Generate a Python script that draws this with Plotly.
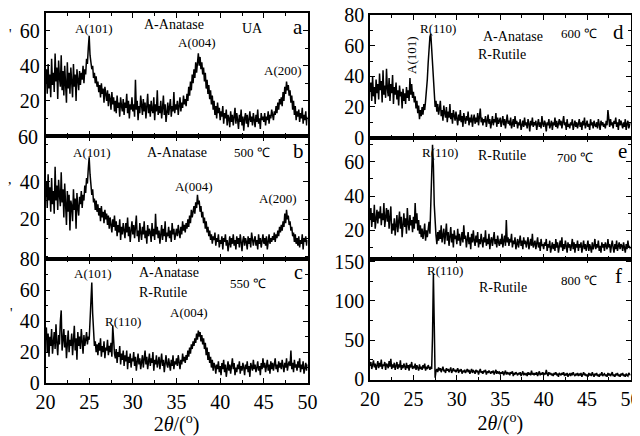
import numpy as np
import plotly.graph_objects as go

# 2-theta sampling grid (degrees)
two_theta = np.round(np.arange(20.0, 50.0001, 0.1), 1)

# ---- intensities (one row = 1 degree, step 0.1) ----
int_a_UA = [
    30, 38, 24, 41, 27, 35, 22, 44, 29, 36,
    25, 47, 31, 39, 21, 43, 33, 28, 46, 26,
    37, 23, 40, 30, 19, 42, 27, 36, 24, 39,
    31, 22, 41, 28, 35, 20, 38, 30, 26, 37,
    29, 36, 32, 40, 30, 38, 35, 44, 41, 50,
    57, 46, 43, 38, 40, 33, 36, 30, 34, 28,
    31, 25, 29, 22, 30, 24, 27, 19, 28, 23,
    20, 26, 17, 24, 21, 15, 25, 18, 22, 14,
    20, 13, 23, 16, 19, 11, 22, 17, 14, 21,
    12, 19, 16, 24, 13, 20, 10, 18, 15, 22,
    14, 18, 11, 32, 15, 20, 9, 17, 13, 23,
    16, 12, 21, 14, 19, 10, 17, 24, 13, 18,
    11, 20, 15, 13, 22, 9, 18, 14, 26, 12,
    17, 13, 20, 10, 16, 23, 12, 18, 8, 15,
    19, 12, 16, 21, 11, 17, 14, 25, 13, 18,
    15, 20, 12, 17, 22, 14, 19, 16, 23, 18,
    21, 17, 24, 20, 28, 23, 31, 26, 35, 30,
    38, 33, 42, 36, 44, 47, 40, 45, 38, 42,
    35, 39, 31, 36, 27, 32, 24, 29, 21, 26,
    18, 23, 15, 20, 12, 17, 10, 19, 13, 16,
    9, 14, 11, 17, 7, 13, 10, 15, 6, 12,
    10, 5, 14, 8, 12, 6, 11, 16, 7, 13,
    9, 4, 12, 8, 15, 6, 11, 3, 10, 13,
    7, 12, 5, 10, 14, 8, 11, 6, 13, 9,
    5, 12, 8, 15, 7, 10, 4, 13, 9, 11,
    8, 13, 6, 11, 9, 14, 7, 12, 10, 15,
    11, 9, 14, 12, 17, 13, 19, 15, 21, 18,
    22, 17, 25, 20, 28, 24, 31, 26, 29, 23,
    26, 19, 23, 15, 20, 12, 17, 9, 14, 11,
    15, 8, 13, 10, 16, 7, 12, 9, 14, 6,
    11]

int_b_500 = [
    32, 40, 26, 44, 30, 37, 24, 42, 28, 35,
    23, 48, 30, 38, 25, 41, 33, 27, 45, 29,
    36, 21, 39, 28, 17, 35, 24, 33, 14, 30,
    27, 19, 36, 25, 31, 15, 34, 26, 22, 32,
    28, 35, 26, 33, 30, 38, 34, 42, 39, 47,
    53, 44, 40, 33, 36, 29, 31, 25, 30, 24,
    28, 22, 26, 19, 27, 21, 24, 18, 25, 20,
    23, 17, 22, 15, 21, 18, 13, 20, 16, 22,
    14, 19, 11, 17, 13, 20, 9, 16, 12, 18,
    15, 10, 18, 13, 21, 11, 16, 8, 14, 19,
    12, 17, 10, 15, 22, 11, 14, 8, 18, 13,
    9, 16, 12, 19, 10, 14, 7, 17, 11, 15,
    13, 8, 18, 11, 15, 9, 23, 12, 16, 10,
    14, 7, 12, 17, 9, 15, 11, 19, 8, 13,
    11, 16, 10, 14, 8, 18, 12, 15, 9, 13,
    15, 11, 17, 13, 10, 16, 12, 19, 14, 17,
    13, 18, 15, 20, 16, 22, 18, 25, 21, 24,
    27, 23, 29, 26, 33, 28, 30, 24, 27, 21,
    24, 18, 21, 15, 19, 13, 16, 11, 14, 9,
    12, 7, 11, 9, 13, 6, 10, 8, 12, 5,
    9, 7, 11, 4, 10, 8, 12, 6, 9, 3,
    8, 11, 5, 10, 7, 12, 6, 9, 4, 11,
    7, 10, 5, 12, 8, 3, 9, 11, 6, 10,
    8, 4, 11, 7, 10, 5, 13, 8, 6, 9,
    11, 6, 9, 4, 12, 7, 10, 5, 8, 12,
    7, 10, 6, 11, 4, 9, 12, 7, 10, 8,
    11, 9, 13, 8, 12, 10, 14, 11, 16, 13,
    17, 14, 19, 16, 23, 18, 25, 20, 22, 17,
    19, 14, 16, 11, 13, 8, 12, 7, 10, 6,
    11, 5, 9, 7, 12, 4, 10, 8, 11, 6,
    9]

int_c_550 = [
    28, 36, 20, 32, 17, 30, 24, 35, 19, 27,
    33, 22, 38, 26, 18, 31, 25, 40, 47, 21,
    29, 35, 23, 31, 16, 27, 34, 20, 28, 24,
    32, 18, 26, 37, 21, 29, 15, 33, 24, 30,
    22, 35, 27, 19, 31, 24, 28, 33, 25, 30,
    28, 38, 52, 65, 45, 30, 24, 27, 20, 25,
    18, 26, 21, 29, 17, 24, 20, 27, 16, 23,
    21, 28, 18, 24, 20, 26, 17, 37, 22, 19,
    16, 22, 13, 20, 17, 24, 12, 19, 15, 21,
    11, 18, 14, 21, 9, 17, 13, 19, 10, 16,
    14, 20, 11, 17, 8, 15, 19, 12, 16, 9,
    13, 18, 10, 15, 21, 12, 17, 9, 14, 19,
    11, 16, 13, 20, 8, 15, 12, 18, 10, 14,
    17, 9, 13, 19, 11, 15, 7, 14, 18, 12,
    10, 16, 13, 8, 15, 11, 18, 9, 14, 12,
    16, 11, 18, 13, 9, 15, 12, 19, 14, 17,
    13, 18, 15, 21, 17, 23, 19, 25, 22, 27,
    24, 29, 26, 32, 28, 34, 30, 33, 27, 31,
    25, 29, 22, 26, 18, 23, 15, 20, 13, 17,
    10, 15, 8, 13, 11, 6, 12, 9, 14, 7,
    11, 5, 13, 9, 15, 7, 12, 4, 10, 14,
    8, 12, 6, 11, 16, 9, 13, 5, 10, 7,
    12, 9, 14, 6, 11, 8, 13, 10, 5, 12,
    9, 14, 7, 11, 4, 13, 10, 8, 15, 9,
    12, 7, 10, 14, 8, 11, 5, 13, 9, 16,
    10, 13, 7, 11, 15, 8, 12, 6, 14, 9,
    13, 8, 11, 16, 9, 12, 7, 14, 10, 13,
    9, 15, 11, 7, 13, 10, 16, 8, 12, 14,
    11, 21, 9, 13, 7, 15, 10, 12, 8, 14,
    10, 16, 7, 12, 9, 14, 6, 11, 13, 8,
    12]

int_d_600 = [
    30, 36, 24, 40, 27, 33, 22, 38, 29, 35,
    25, 42, 31, 37, 23, 44, 28, 34, 26, 45,
    32, 27, 39, 24, 35, 29, 41, 22, 33, 28,
    36, 25, 31, 21, 34, 27, 30, 19, 32, 24,
    29, 22, 33, 26, 31, 24, 39, 28, 35, 26,
    30, 23, 27, 19, 24, 16, 21, 12, 18, 14,
    20, 15, 22, 18, 24, 30, 38, 49, 60, 66,
    68, 58, 45, 34, 26, 20, 24, 17, 22, 15,
    19, 24, 14, 18, 11, 21, 16, 13, 20, 10,
    17, 13, 22, 12, 16, 9, 18, 14, 11, 17,
    13, 8, 15, 11, 18, 10, 14, 7, 16, 12,
    9, 14, 11, 17, 8, 13, 10, 15, 7, 12,
    15, 9, 13, 10, 16, 8, 12, 19, 10, 13,
    8, 12, 10, 14, 7, 11, 15, 9, 12, 6,
    11, 14, 8, 12, 10, 16, 7, 13, 9, 11,
    13, 7, 10, 14, 8, 12, 6, 11, 15, 9,
    11, 8, 13, 6, 10, 12, 7, 14, 9, 11,
    6, 10, 8, 12, 5, 9, 11, 7, 13, 8,
    10, 6, 12, 9, 4, 11, 8, 13, 7, 10,
    8, 11, 5, 9, 12, 7, 10, 6, 14, 9,
    7, 11, 9, 4, 10, 8, 12, 6, 9, 11,
    5, 10, 8, 13, 7, 11, 6, 9, 12, 8,
    11, 6, 9, 14, 8, 10, 5, 12, 7, 9,
    6, 10, 8, 12, 5, 9, 11, 7, 10, 6,
    9, 12, 7, 10, 5, 11, 8, 13, 6, 9,
    11, 7, 9, 5, 12, 8, 10, 6, 11, 8,
    7, 10, 6, 12, 9, 5, 11, 8, 10, 7,
    9, 6, 11, 8, 18, 10, 7, 12, 8, 10,
    6, 11, 9, 13, 7, 10, 5, 12, 8, 11,
    9, 6, 10, 7, 12, 5, 9, 11, 6, 8,
    10]

int_e_700 = [
    26, 33, 22, 30, 25, 35, 21, 29, 32, 24,
    31, 27, 34, 23, 30, 26, 36, 22, 28, 33,
    25, 32, 21, 29, 34, 18, 24, 20, 27, 17,
    23, 29, 19, 26, 31, 21, 28, 16, 25, 30,
    22, 27, 18, 33, 24, 20, 29, 23, 26, 19,
    28, 21, 36, 24, 30, 20, 26, 18, 23, 16,
    21, 15, 19, 24, 14, 20, 16, 22, 25, 18,
    30, 52, 70, 58, 35, 22, 17, 12, 19, 14,
    20, 15, 23, 13, 18, 21, 12, 17, 24, 14,
    19, 11, 16, 22, 13, 18, 10, 20, 15, 17,
    12, 21, 14, 18, 11, 16, 19, 13, 23, 15,
    17, 10, 14, 19, 12, 16, 9, 18, 13, 20,
    14, 11, 17, 13, 19, 10, 15, 12, 18, 14,
    10, 16, 13, 20, 11, 15, 12, 18, 9, 14,
    16, 11, 14, 19, 12, 15, 10, 17, 13, 11,
    15, 12, 18, 10, 14, 17, 11, 26, 13, 16,
    11, 15, 13, 18, 10, 14, 12, 16, 9, 13,
    15, 10, 13, 17, 11, 14, 9, 16, 12, 14,
    10, 13, 16, 9, 12, 15, 11, 18, 10, 13,
    14, 9, 12, 16, 10, 13, 8, 15, 11, 12,
    9, 13, 11, 15, 8, 12, 10, 14, 7, 11,
    13, 9, 12, 8, 15, 10, 13, 7, 11, 14,
    10, 16, 8, 12, 9, 14, 11, 7, 13, 10,
    12, 8, 11, 15, 9, 13, 7, 12, 10, 14,
    8, 12, 10, 13, 7, 11, 14, 9, 12, 8,
    11, 14, 8, 12, 10, 7, 13, 9, 11, 15,
    9, 12, 10, 14, 8, 11, 7, 13, 10, 12,
    8, 13, 11, 9, 15, 10, 12, 7, 11, 14,
    10, 7, 12, 9, 14, 8, 11, 13, 9, 12,
    11, 8, 13, 10, 7, 12, 9, 14, 10, 11,
    9]

int_f_800 = [
    17, 22, 13, 19, 24, 15, 20, 12, 18, 23,
    14, 21, 16, 25, 13, 19, 17, 22, 12, 20,
    18, 14, 23, 16, 26, 13, 19, 15, 21, 12,
    17, 22, 13, 19, 15, 24, 12, 18, 14, 20,
    16, 12, 21, 14, 18, 11, 19, 15, 22, 13,
    17, 14, 20, 12, 18, 15, 11, 19, 13, 16,
    12, 18, 14, 20, 11, 16, 13, 18, 15, 12,
    16, 13, 55, 135, 70, 2, 10, 13, 9, 15,
    11, 14, 9, 13, 16, 10, 12, 8, 14, 11,
    13, 9, 12, 15, 8, 11, 14, 10, 12, 9,
    11, 14, 8, 12, 10, 13, 7, 11, 9, 12,
    8, 11, 13, 9, 12, 7, 10, 13, 8, 11,
    10, 7, 12, 9, 11, 6, 10, 13, 8, 10,
    7, 11, 9, 12, 6, 10, 8, 11, 9, 7,
    10, 8, 11, 6, 9, 12, 7, 10, 8, 9,
    6, 9, 7, 10, 5, 8, 11, 6, 9, 7,
    8, 5, 9, 7, 10, 4, 8, 6, 9, 7,
    5, 8, 6, 9, 4, 7, 10, 5, 8, 6,
    7, 4, 9, 6, 8, 5, 11, 6, 8, 5,
    8, 6, 9, 4, 7, 10, 5, 8, 6, 9,
    5, 8, 6, 12, 7, 4, 9, 6, 8, 5,
    7, 4, 8, 6, 9, 5, 7, 3, 8, 6,
    5, 8, 6, 9, 4, 7, 5, 8, 3, 6,
    7, 4, 8, 5, 9, 6, 4, 7, 5, 8,
    4, 7, 5, 8, 3, 6, 9, 5, 7, 4,
    6, 3, 8, 5, 7, 4, 9, 6, 3, 7,
    5, 8, 4, 6, 3, 7, 5, 9, 4, 6,
    7, 4, 6, 3, 8, 5, 7, 4, 6, 9,
    4, 6, 3, 7, 5, 8, 4, 6, 3, 7,
    5, 8, 4, 6, 3, 7, 5, 4, 8, 6,
    5]

x_ticks = [20, 25, 30, 35, 40, 45, 50]
x_title = "2<i>θ</i>/(<sup>o</sup>)"

# the page body has an 8 px margin: the figure is drawn 8 px right and down,
# so it is made 8 px smaller and positions are measured from the window corner.
OFF = 8
W, H = 640 - OFF, 436 - OFF
def pxx(v): return (v - OFF) / W
def pyy(v): return 1 - (v - OFF) / H

FONT = "Liberation Serif"
TICK = 20

L = (45.5, 307.5)
R = (370, 630.5)
panels = [
    (int_a_UA,  L, (13, 136),    [0, 70],      [20, 40, 60],        10, False),
    (int_b_500, L, (136, 259),   [-1.1, 64.3], [20, 40],            10, False),
    (int_c_550, L, (259, 383),   [0, 80.3],    [0, 20, 40, 60, 80], 10, True),
    (int_d_600, R, (15, 137.5),  [0, 80.3],    [0, 20, 40, 60, 80], 10, False),
    (int_e_700, R, (137.5, 258.5), [3.6, 74.2], [20, 40, 60],       10, False),
    (int_f_800, R, (258.5, 380), [-1, 154],    [0, 50, 100, 150],   25, True),
]

fig = go.Figure()
layout = {}
for i, (vals, xd, yd, yr, ytv, ymin, bottom) in enumerate(panels, start=1):
    xa = "x" if i == 1 else f"x{i}"
    ya = "y" if i == 1 else f"y{i}"
    fig.add_trace(go.Scatter(x=two_theta, y=vals, mode="lines",
                             line=dict(color="black", width=1.5),
                             xaxis=xa, yaxis=ya, showlegend=False,
                             hoverinfo="skip"))
    xkey = "xaxis" if i == 1 else f"xaxis{i}"
    ykey = "yaxis" if i == 1 else f"yaxis{i}"
    xdict = dict(
        domain=[pxx(xd[0]), pxx(xd[1])], anchor=ya, range=[20, 50],
        tickvals=x_ticks, showticklabels=bottom, automargin=False,
        ticklabeloverflow="allow",
        ticks="inside", ticklen=5, tickwidth=1, tickcolor="black",
        minor=dict(ticks="inside", ticklen=3, dtick=2.5, tick0=20, tickcolor="black"),
        showline=True, linecolor="black", linewidth=1.5, mirror="ticks",
        showgrid=False, zeroline=False,
        tickfont=dict(family=FONT, size=TICK, color="black"),
    )
    if bottom:
        xdict["title"] = dict(text=x_title, standoff=0,
                              font=dict(family=FONT, size=20, color="black"))
    layout[xkey] = xdict
    layout[ykey] = dict(
        domain=[pyy(yd[1]), pyy(yd[0])], anchor=xa, range=yr, automargin=False,
        ticklabeloverflow="allow",
        tickvals=ytv, ticks="inside", ticklen=5, tickwidth=1, tickcolor="black",
        minor=dict(ticks="inside", ticklen=3, dtick=ymin, tick0=0, tickcolor="black"),
        showline=True, linecolor="black", linewidth=1.5, mirror="ticks",
        showgrid=False, zeroline=False,
        tickfont=dict(family=FONT, size=TICK, color="black"),
    )

fig.update_layout(**layout)

def ann(text, x, y, size=13, angle=0, xanchor="center"):
    fig.add_annotation(text=text, x=pxx(x), y=pyy(y), xref="paper", yref="paper",
                       showarrow=False, xanchor=xanchor, yanchor="middle",
                       textangle=angle,
                       font=dict(family=FONT, size=size, color="black"))

# panel a
ann("A(101)", 94, 28)
ann("A-Anatase", 174, 24, 14)
ann("UA", 252, 28, 14)
ann("a", 298, 27, 21)
ann("A(004)", 197, 43)
ann("A(200)", 283, 71)
# panel b
ann("A(101)", 92, 152)
ann("A-Anatase", 177, 153, 14)
ann("500 ℃", 252, 153, 13)
ann("b", 298, 151, 21)
ann("A(004)", 194, 186)
ann("A(200)", 278, 198)
# panel c
ann("A(101)", 93, 273)
ann("A-Anatase", 169, 272, 14)
ann("R-Rutile", 163, 292, 14)
ann("550 ℃", 248, 283, 13)
ann("c", 298, 272, 20)
ann("R(110)", 123, 321)
ann("A(004)", 189, 312)
# panel d
ann("R(110)", 438, 28)
ann("A(101)", 412, 55, 13, angle=-90)
ann("A-Anatase", 513, 36, 14)
ann("R-Rutile", 502, 55, 14)
ann("600 ℃", 579, 33, 13)
ann("d", 618, 32, 21)
# panel e
ann("R(110)", 440, 152)
ann("R-Rutile", 502, 156, 14)
ann("700 ℃", 575, 157, 13)
ann("e", 622, 151, 21)
# panel f
ann("R(110)", 445, 270)
ann("R-Rutile", 503, 287, 14)
ann("800 ℃", 579, 280, 13)
ann("f", 618, 276, 21)
# leftover tick label at the a/b boundary and y-title remnants
ann("60", 40, 137, TICK, xanchor="right")
ann("'", 10, 35, 14)
ann(",", 10, 180, 14)
ann("'", 11, 313, 14)

fig.update_layout(width=W, height=H, margin=dict(l=0, r=0, t=0, b=0),
                  paper_bgcolor="white", plot_bgcolor="white")

fig.write_html("out.html")
